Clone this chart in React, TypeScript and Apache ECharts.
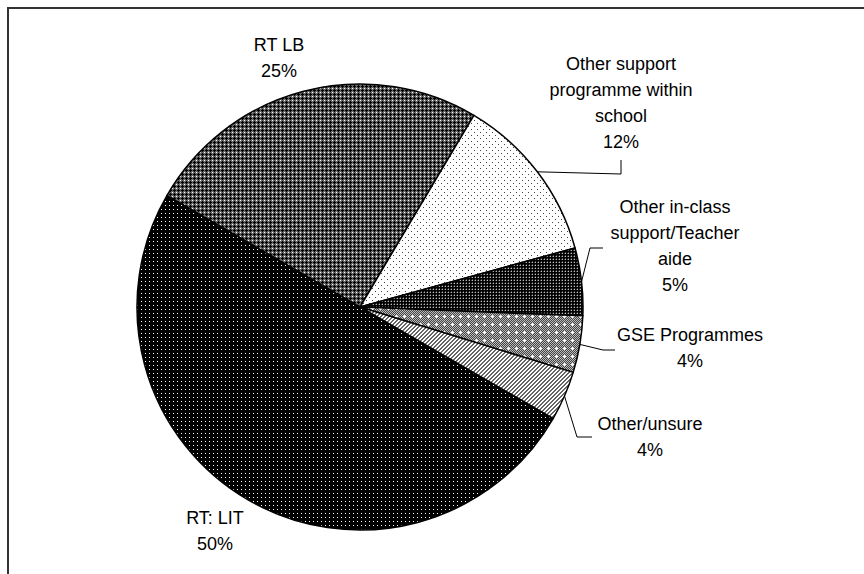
import React, { useEffect, useRef } from 'react';
import * as echarts from 'echarts';

// ---- data ----
const categories = [
  'RT: LIT',
  'RT LB',
  'Other support\nprogramme within\nschool',
  'Other in-class\nsupport/Teacher\naide',
  'GSE Programmes',
  'Other/unsure',
];
const values = [50.0, 25.2, 12.2, 4.9, 4.1, 3.6];

// ---- layout (label block centres and leader elbows, in px) ----
const labelCenters = [
  [215, 531],
  [279, 58],
  [621, 103],
  [675, 246],
  [690, 348],
  [650, 437],
];
const leaderTails: (number[][] | null)[] = [
  null,
  null,
  [[621, 174], [621, 160]],
  [[590, 248], [603, 248]],
  [[603, 350], [615, 350]],
  [[577, 437], [592, 437]],
];

// ---- fill patterns (styles) ----
const shade: Record<string, string> = {
  k: '#000000',
  d: '#444444',
  m: '#666666',
  g: '#888888',
  l: '#bbbbbb',
  w: '#ffffff',
};
const patternTiles: string[][] = [
  // RT: LIT - black with light dots
  ['kkkk', 'kwkk', 'kkkk', 'kkkk'],
  // RT LB - grey lattice with black crosses and white dots
  ['wmmm', 'mmkm', 'mkkk', 'mmkm'],
  // Other support - white with grey staggered dots
  ['dwwwww', 'wwwwww', 'wwwwww', 'wwwdww', 'wwwwww', 'wwwwww'],
  // In-class - dark with light grid
  ['kdk', 'dlk', 'kkk'],
  // GSE - grey checker with white plus signs
  [
    'ldldldld',
    'dldldldl',
    'ldldldld',
    'dldlwldl',
    'ldlwwwld',
    'dldlwldl',
    'ldldldld',
    'dldldldl',
  ],
  // Other/unsure - diagonal stripes
  ['mmww', 'mwwm', 'wwmm', 'wmmw'],
];

function makePattern(rows: string[]) {
  const h = rows.length;
  const w = rows[0].length;
  const c = document.createElement('canvas');
  c.width = w;
  c.height = h;
  const ctx = c.getContext('2d')!;
  for (let y = 0; y < h; y++) {
    for (let x = 0; x < w; x++) {
      ctx.fillStyle = shade[rows[y][x]];
      ctx.fillRect(x, y, 1, 1);
    }
  }
  return {
    image: c.toDataURL(),
    repeat: 'repeat',
    imageWidth: w,
    imageHeight: h,
  };
}

export default function App() {
  const ref = useRef<HTMLDivElement>(null);

  useEffect(() => {
    document.body.style.margin = '0';
    if (!ref.current) return;
    const chart = echarts.init(ref.current, null, { renderer: 'svg' });

    const data = categories.map((name, i) => ({
      name,
      value: values[i],
      itemStyle: { color: makePattern(patternTiles[i]) as any },
      labelLine: { show: leaderTails[i] !== null },
    }));

    chart.setOption({
      animation: false,
      backgroundColor: '#ffffff',
      graphic: [
        {
          type: 'rect',
          shape: { x: 8, y: 8, width: 1000, height: 1000 },
          style: { fill: 'none', stroke: '#333333', lineWidth: 2 },
          silent: true,
        },
      ],
      series: [
        {
          type: 'pie',
          center: [360, 307],
          radius: 223,
          startAngle: -30,
          clockwise: true,
          avoidLabelOverlap: false,
          emphasis: { disabled: true },
          itemStyle: { borderColor: '#000000', borderWidth: 1.5 },
          label: {
            show: true,
            position: 'outside',
            color: '#000000',
            fontFamily: 'Liberation Sans, Arial, sans-serif',
            fontSize: 18,
            lineHeight: 26,
            formatter: (p: any) => `${p.name}\n${Math.round(p.percent)}%`,
          },
          labelLine: {
            show: true,
            length: 10,
            length2: 10,
            lineStyle: { color: '#000000', width: 1 },
          },
          labelLayout: (params: any) => {
            const i = params.dataIndex;
            const [x, y] = labelCenters[i];
            const out: any = { x, y, align: 'center', verticalAlign: 'middle' };
            const tail = leaderTails[i];
            if (tail && params.labelLinePoints) {
              out.labelLinePoints = [params.labelLinePoints[0], ...tail];
            }
            return out;
          },
          data,
        },
      ],
    });

    return () => chart.dispose();
  }, []);

  return <div ref={ref} style={{ width: 864, height: 574 }} />;
}
